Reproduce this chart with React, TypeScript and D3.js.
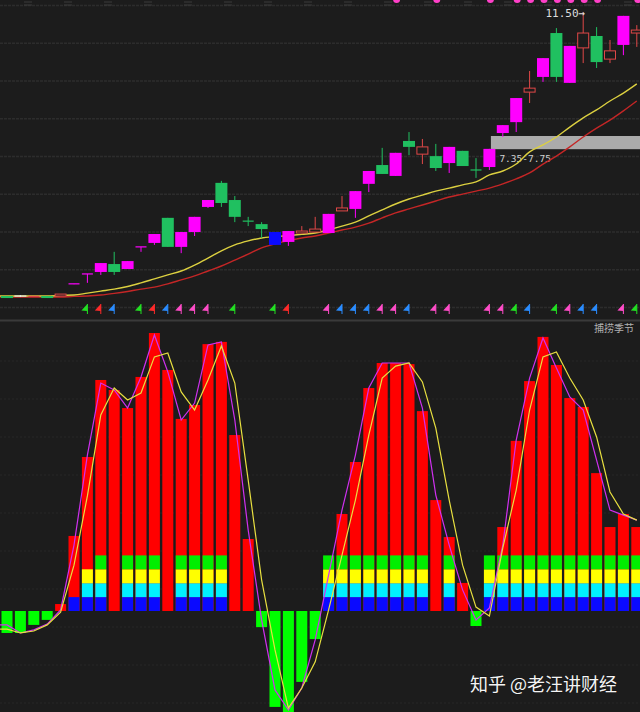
import React from 'react';
import * as d3 from 'd3';

const W = 640;
const H = 712;

// ---- candlestick data (price) ----
const opens = [2.90, 2.88, 2.87, 2.90, 2.90, 3.26, 3.57, 3.63, 3.87, 3.72, 4.37, 4.51, 5.27, 4.39, 4.84, 5.60, 6.33, 5.81, 5.17, 5.08, 4.45, 4.54, 4.81, 4.84, 4.81, 5.48, 5.54, 6.30, 6.87, 6.54, 7.60, 7.20, 7.14, 6.93, 7.30, 6.72, 6.81, 7.84, 8.17, 9.08, 9.54, 10.87, 9.36, 10.42, 10.78, 10.08, 10.51, 10.87];
const highs = [2.90, 2.93, 2.90, 2.90, 2.96, 3.27, 3.57, 3.90, 4.24, 3.96, 4.39, 4.78, 5.27, 4.84, 5.30, 5.81, 6.39, 5.93, 5.30, 5.14, 4.84, 4.87, 5.02, 5.30, 5.39, 5.93, 6.08, 6.69, 7.39, 7.24, 7.87, 7.66, 7.51, 7.42, 7.30, 7.08, 7.36, 8.08, 8.90, 9.72, 10.11, 11.02, 10.48, 11.50, 11.05, 10.66, 11.39, 11.11];
const lows = [2.84, 2.87, 2.87, 2.84, 2.90, 3.26, 3.30, 3.54, 3.54, 3.72, 4.24, 4.45, 4.39, 4.20, 4.72, 5.57, 5.60, 5.14, 5.02, 4.66, 4.45, 4.42, 4.81, 4.84, 4.81, 5.48, 5.27, 6.05, 6.60, 6.54, 7.17, 6.90, 6.69, 6.63, 6.84, 6.48, 6.72, 7.72, 7.87, 8.75, 9.39, 9.39, 9.36, 9.96, 9.81, 9.96, 10.20, 10.45];
const closes = [2.84, 2.92, 2.89, 2.84, 2.96, 3.27, 3.57, 3.90, 3.63, 3.96, 4.39, 4.78, 4.39, 4.84, 5.30, 5.81, 5.72, 5.30, 5.17, 4.93, 4.84, 4.87, 4.87, 4.93, 5.39, 5.57, 6.08, 6.69, 6.60, 7.24, 7.42, 7.42, 6.78, 7.42, 6.84, 6.72, 7.36, 8.08, 8.90, 9.20, 10.11, 9.54, 10.48, 10.87, 9.99, 10.33, 11.39, 10.96];
// m = magenta filled, g = green filled, r = red hollow, b = blue, w = white
const kinds = ['g', 'w', 'r', 'g', 'r', 'm', 'm', 'm', 'g', 'm', 'm', 'm', 'g', 'm', 'm', 'm', 'g', 'g', 'g', 'g', 'b', 'm', 'r', 'r', 'm', 'r', 'm', 'm', 'g', 'm', 'g', 'r', 'g', 'm', 'g', 'g', 'm', 'm', 'm', 'r', 'm', 'g', 'm', 'r', 'g', 'r', 'm', 'r'];

// moving averages
const maYellow = [2.90, 2.90, 2.90, 2.90, 2.92, 2.93, 2.99, 3.05, 3.11, 3.19, 3.30, 3.42, 3.54, 3.66, 3.84, 4.05, 4.27, 4.45, 4.57, 4.66, 4.70, 4.73, 4.77, 4.81, 4.90, 5.02, 5.14, 5.33, 5.51, 5.69, 5.84, 5.96, 6.08, 6.17, 6.27, 6.36, 6.57, 6.69, 6.90, 7.27, 7.48, 7.72, 8.02, 8.30, 8.54, 8.81, 9.05, 9.33];
const maRed = [2.87, 2.87, 2.87, 2.87, 2.87, 2.89, 2.90, 2.93, 2.98, 3.04, 3.11, 3.17, 3.27, 3.39, 3.51, 3.66, 3.81, 3.99, 4.17, 4.36, 4.48, 4.58, 4.66, 4.72, 4.81, 4.90, 4.99, 5.11, 5.27, 5.42, 5.54, 5.66, 5.78, 5.90, 5.99, 6.08, 6.17, 6.30, 6.45, 6.63, 6.90, 7.14, 7.42, 7.72, 7.99, 8.23, 8.51, 8.81];

// signal flags under candles
const flagIndex = [6, 7, 8, 10, 11, 12, 13, 14, 15, 17, 20, 21, 24, 25, 26, 27, 28, 29, 30, 32, 33, 36, 37, 38, 39, 41, 42, 43, 44, 46, 47];
const flagColor = ['green', 'red', 'blue', 'green', 'red', 'blue', 'pink', 'pink', 'pink', 'green', 'green', 'red', 'pink', 'blue', 'blue', 'blue', 'pink', 'pink', 'blue', 'pink', 'pink', 'pink', 'pink', 'green', 'blue', 'green', 'pink', 'blue', 'blue', 'pink', 'green'];
const dotIndex = [29, 32, 36, 38, 39, 40, 41, 42, 43, 44, 47];

const zoneLow = 7.35;
const zoneHigh = 7.75;
const zoneLabel = '7.35-7.75';
const highLabel = '11.50→';
const highLabelIndex = 43;
const zoneStartIndex = 36;

// ---- indicator (捕捞季节) ----
const indicatorName = '捕捞季节';
const barValues = [-7.9, -7.9, -5.0, -3.2, 2.5, 27.0, 55.4, 83.1, 79.5, 73.0, 84.2, 100, 86.7, 69.1, 74.1, 96.0, 96.8, 63.3, 25.9, -5.8, -34.5, -37.5, -25.5, -10.1, 13.0, 34.9, 53.6, 80.2, 89.2, 89.2, 88.8, 71.9, 39.9, 26.6, 10.1, -5.4, 2.0, 30.2, 61.2, 82.7, 98.6, 88.5, 76.6, 73.4, 49.6, 30.2, 34.9, 30.2];
const stackLevels = [0, 0, 0, 0, 0, 1, 3, 4, 0, 4, 4, 4, 0, 4, 4, 4, 4, 0, 0, 0, 0, 0, 0, 0, 4, 4, 4, 4, 4, 4, 4, 4, 0, 4, 0, 0, 4, 4, 4, 4, 4, 4, 4, 4, 4, 4, 4, 4];
const stackSteps = [0, 5, 10, 15, 20];
const stackColors = ['#0a0aff', '#00f0ff', '#ffff00', '#00ee00'];
const lineMagenta = [-5.0, -7.9, -6.8, -4.7, 0.4, 23.7, 56.1, 82.0, 79.5, 73.0, 84.2, 99.3, 86.0, 68.7, 74.8, 95.7, 96.8, 68.7, 29.1, -3.2, -28.4, -35.6, -27.7, -10.4, 12.9, 36.3, 56.1, 80.2, 89.2, 89.2, 89.2, 73.0, 41.7, 23.7, 7.6, -3.2, 1.1, 23.7, 61.5, 83.8, 98.2, 87.4, 77.0, 72.3, 54.3, 36.3, 34.5, 32.7];
const lineYellow = [-6.5, -7.9, -7.2, -5.0, -0.4, 16.5, 41.4, 70.5, 80.2, 75.9, 78.4, 91.4, 92.8, 78.8, 72.3, 83.1, 95.3, 82.0, 47.1, 11.2, -14.0, -34.9, -27.7, -18.3, 0.4, 20.1, 39.9, 63.3, 83.8, 88.1, 89.2, 82.4, 65.8, 39.9, 16.5, 1.4, -1.8, 22.7, 43.5, 72.3, 91.4, 93.2, 83.8, 75.9, 62.6, 42.8, 34.9, 32.7];

const watermark = '知乎 @老汪讲财经';

const BG = '#1c1c1c';
const COL = {
  m: '#ff00ff',
  g: '#20c060',
  r: '#e04848',
  b: '#0a0aff',
  w: '#e8e8e8',
};
const FLAG = { green: '#22e022', red: '#ff2a2a', blue: '#2a8cff', pink: '#ff4cc8' };

export default function App() {
  const idx = opens.map((_, i) => i);
  const x = d3.scaleBand<number>().domain(idx).range([0.3, 643.5]).paddingInner(0);
  const cx = (i: number) => (x(i) as number) + x.bandwidth() / 2;
  const yP = d3.scaleLinear().domain([2.235, 11.871]).range([318, 0]);
  const yI = d3.scaleLinear().domain([0, 100]).range([611, 333]);

  // lines are continued to the left edge of the panel with their first value
  const withLead = (arr: number[]) => [{ px: 0, v: arr[0] }, ...arr.map((v, i) => ({ px: cx(i), v }))];

  const maLine = d3
    .line<{ px: number; v: number }>()
    .x((d) => d.px)
    .y((d) => yP(d.v))
    .curve(d3.curveMonotoneX);
  const indLine = d3
    .line<{ px: number; v: number }>()
    .x((d) => d.px)
    .y((d) => yI(d.v));

  const topGrid = d3.range(9).map((k) => 5.5 + k * 37.75);
  const botGrid = d3.range(-7, 3).map((k) => 627 + k * 38);

  const bodyW = 12;
  const barW = 11;

  return (
    <svg
      width={W}
      height={H}
      style={{ position: 'absolute', left: 0, top: 0, display: 'block', background: BG }}
    >
      <defs>
        <clipPath id="top">
          <rect x={0} y={0} width={W} height={319} />
        </clipPath>
        <clipPath id="bot">
          <rect x={0} y={322} width={W} height={H - 322} />
        </clipPath>
      </defs>
      <rect x={0} y={0} width={W} height={H} fill={BG} />

      {/* top panel grid */}
      {topGrid.map((g, k) => (
        <line key={'tg' + k} x1={0} x2={W} y1={g} y2={g} stroke="#2c2c2c" strokeWidth={1.5} strokeDasharray="3 1" />
      ))}
      <line x1={0} x2={W} y1={2} y2={2} stroke="#3a3a3a" strokeWidth={1} strokeDasharray="8 32" strokeDashoffset={-24} />
      <line x1={0} x2={W} y1={5} y2={5} stroke="#3a3a3a" strokeWidth={1} strokeDasharray="8 32" strokeDashoffset={-24} />

      {/* bottom panel grid */}
      {botGrid.map((g, k) => (
        <line key={'bg' + k} x1={0} x2={W} y1={g} y2={g} stroke="#272727" strokeWidth={1} strokeDasharray="2 2" />
      ))}

      <g clipPath="url(#top)">
        {/* price zone */}
        <rect
          x={cx(zoneStartIndex) + 1.5}
          y={yP(zoneHigh)}
          width={W - cx(zoneStartIndex)}
          height={yP(zoneLow) - yP(zoneHigh)}
          fill="#ababab"
        />
        <text
          x={cx(zoneStartIndex) + 10}
          y={yP(zoneLow) + 12.5}
          fill="#d0d0d0"
          fontFamily="'DejaVu Sans Mono', monospace"
          fontSize={9.5}
        >
          {zoneLabel}
        </text>

        {/* moving averages */}
        <path d={maLine(withLead(maRed)) || ''} fill="none" stroke="#c42626" strokeWidth={1.4} />
        <path d={maLine(withLead(maYellow)) || ''} fill="none" stroke="#dcd040" strokeWidth={1.4} />

        {/* candles */}
        {idx.map((i) => {
          const o = opens[i];
          const c = closes[i];
          const k = kinds[i] as keyof typeof COL;
          const col = COL[k];
          const top = yP(Math.max(o, c));
          const bot = yP(Math.min(o, c));
          const hy = yP(highs[i]);
          const ly = yP(lows[i]);
          const xc = cx(i);
          const doji = bot - top < 1.2;
          if (doji) {
            return (
              <g key={'c' + i}>
                <line x1={xc} x2={xc} y1={hy} y2={ly} stroke={col} strokeWidth={1} />
                <line x1={xc - 5.5} x2={xc + 5.5} y1={top} y2={top} stroke={col} strokeWidth={1.2} />
              </g>
            );
          }
          if (k === 'r') {
            return (
              <g key={'c' + i}>
                <line x1={xc} x2={xc} y1={hy} y2={top} stroke={col} strokeWidth={1} />
                <line x1={xc} x2={xc} y1={bot} y2={ly} stroke={col} strokeWidth={1} />
                <rect x={xc - 5.5} y={top} width={11} height={bot - top} fill={BG} stroke={col} strokeWidth={1} />
              </g>
            );
          }
          return (
            <g key={'c' + i}>
              <line x1={xc} x2={xc} y1={hy} y2={ly} stroke={col} strokeWidth={1} />
              <rect x={xc - bodyW / 2} y={top} width={bodyW} height={bot - top} fill={col} />
            </g>
          );
        })}

        {/* high label */}
        <text
          x={cx(highLabelIndex) + 2}
          y={yP(11.5) + 5}
          fill="#dcdcdc"
          fontFamily="'DejaVu Sans Mono', monospace"
          fontSize={11}
          textAnchor="end"
        >
          {highLabel}
        </text>

        {/* top dots */}
        {dotIndex.map((i) => (
          <circle key={'d' + i} cx={cx(i) + 1} cy={-0.5} r={3.5} fill="#ff40c8" />
        ))}

        {/* flags */}
        {flagIndex.map((i, k) => {
          const xc = cx(i);
          const col = FLAG[flagColor[k] as keyof typeof FLAG];
          return (
            <g key={'f' + k}>
              <line x1={xc} x2={xc} y1={304} y2={314} stroke={col} strokeWidth={1} />
              <path d={`M${xc},304 L${xc - 6},310.5 L${xc},311 Z`} fill={col} />
            </g>
          );
        })}
      </g>

      {/* panel separator */}
      <rect x={0} y={319.5} width={W} height={2} fill="#3a3a3a" />

      <g clipPath="url(#bot)">
        {/* histogram bars */}
        {idx.map((i) => {
          const v = barValues[i];
          const y0 = yI(0);
          const yv = yI(v);
          return (
            <rect
              key={'b' + i}
              x={cx(i) - barW / 2}
              y={Math.min(y0, yv)}
              width={barW}
              height={Math.abs(yv - y0)}
              fill={v >= 0 ? '#ff0000' : '#00ff00'}
            />
          );
        })}
        {/* stacked colour blocks */}
        {idx.map((i) =>
          d3.range(stackLevels[i]).map((s) => (
            <rect
              key={'s' + i + '-' + s}
              x={cx(i) - barW / 2}
              y={yI(stackSteps[s + 1])}
              width={barW}
              height={yI(stackSteps[s]) - yI(stackSteps[s + 1])}
              fill={stackColors[s]}
            />
          ))
        )}
        <path d={indLine(withLead(lineMagenta)) || ''} fill="none" stroke="#d030f0" strokeWidth={1.2} />
        <path d={indLine(withLead(lineYellow)) || ''} fill="none" stroke="#e8e040" strokeWidth={1.2} />
      </g>

      <text
        x={634}
        y={332}
        fill="#b0b0b0"
        fontFamily="'Noto Sans CJK SC', sans-serif"
        fontSize={10}
        textAnchor="end"
      >
        {indicatorName}
      </text>

      <text
        x={470}
        y={691}
        fill="#f4f4f4"
        fontFamily="'Noto Sans CJK SC', sans-serif"
        fontSize={18}
        style={{ paintOrder: 'stroke' }}
        stroke="rgba(0,0,0,0.35)"
        strokeWidth={1}
      >
        {watermark}
      </text>
    </svg>
  );
}
